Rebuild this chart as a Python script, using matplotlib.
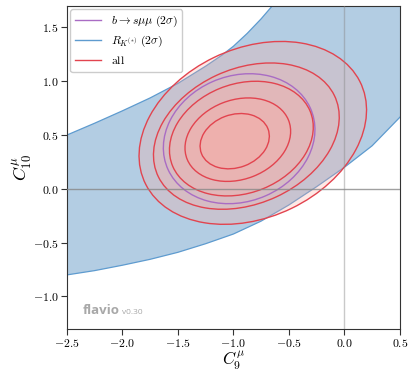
import numpy as np
import matplotlib
matplotlib.use("Agg")
import matplotlib.pyplot as plt
from matplotlib.patches import Ellipse, Polygon
from matplotlib.lines import Line2D
from matplotlib.ticker import FuncFormatter

plt.rcParams['mathtext.fontset'] = 'cm'
plt.rcParams['font.family'] = 'serif'
plt.rcParams['font.serif'] = ['DejaVu Serif']

# R_K(*) band (2 sigma): upper and lower edges
band_upper_x = [-2.6, -2.5, -2.25, -2.0, -1.75, -1.5, -1.25, -1.1, -1.0, -0.875, -0.75, -0.5, -0.3, 0.0, 0.6]
band_upper_y = [0.455, 0.50, 0.61, 0.725, 0.845, 0.98, 1.14, 1.245, 1.325, 1.445, 1.58, 1.88, 2.15, 2.5, 3.3]
band_lower_x = [-2.6, -2.5, -2.25, -2.0, -1.75, -1.5, -1.25, -1.0, -0.75, -0.5, -0.25, 0.0, 0.25, 0.5, 0.6]
band_lower_y = [-0.81, -0.80, -0.76, -0.71, -0.655, -0.59, -0.51, -0.42, -0.30, -0.15, 0.02, 0.20, 0.40, 0.665, 0.78]

# "all" contours (inner -> outer): centre, half-width, half-height, correlation
all_cx = [-0.988, -0.96, -0.928, -0.883, -0.825]
all_cy = [0.443, 0.457, 0.467, 0.49, 0.52]
all_sx = [0.312, 0.476, 0.648, 0.837, 1.025]
all_sy = [0.257, 0.388, 0.533, 0.68, 0.85]
all_rho = [0.18, 0.2, 0.2, 0.26, 0.25]

# b -> s mu mu (2 sigma) contour
bsmm_cx, bsmm_cy = -0.948, 0.466
bsmm_sx, bsmm_sy = 0.683, 0.604
bsmm_rho = 0.14

x_ticks = [-2.5, -2.0, -1.5, -1.0, -0.5, 0.0, 0.5]
y_ticks = [-1.0, -0.5, 0.0, 0.5, 1.0, 1.5]

BLUE_FILL = '#b3cde3'
BLUE_LINE = '#5e9bcf'
RED_LINE = '#e2444f'
RED_FILL = '#ffaaa0'
PURPLE = '#a96cc4'


def make_ellipse(cx, cy, sx, sy, rho, **kw):
    # ellipse with given bounding half-sizes and correlation
    cov = np.array([[sx ** 2, rho * sx * sy], [rho * sx * sy, sy ** 2]])
    vals, vecs = np.linalg.eigh(cov)
    angle = np.degrees(np.arctan2(vecs[1, 1], vecs[0, 1]))
    return Ellipse((cx, cy), 2 * np.sqrt(vals[1]), 2 * np.sqrt(vals[0]), angle=angle, **kw)


def main():
    fig = plt.figure(figsize=(4.08, 3.71), dpi=100)
    ax = fig.add_axes([0.164, 0.114, 0.816, 0.870])

    # R_K band
    pts = list(zip(band_upper_x, band_upper_y)) + list(zip(band_lower_x[::-1], band_lower_y[::-1]))
    ax.add_patch(Polygon(pts, closed=True, facecolor=BLUE_FILL, edgecolor=BLUE_LINE, lw=0.9, zorder=1))

    # filled "all" contours, outermost first
    for i in range(len(all_cx) - 1, -1, -1):
        ax.add_patch(make_ellipse(all_cx[i], all_cy[i], all_sx[i], all_sy[i], all_rho[i],
                                  facecolor=RED_FILL, edgecolor='none', alpha=0.27, zorder=2))
    ax.add_patch(make_ellipse(bsmm_cx, bsmm_cy, bsmm_sx, bsmm_sy, bsmm_rho,
                              facecolor='none', edgecolor=PURPLE, lw=1.0, zorder=3))
    for i in range(len(all_cx)):
        ax.add_patch(make_ellipse(all_cx[i], all_cy[i], all_sx[i], all_sy[i], all_rho[i],
                                  facecolor='none', edgecolor=RED_LINE, lw=1.0, zorder=4))

    ax.axhline(0, color='#888888', lw=1.0, alpha=0.8, zorder=5)
    ax.axvline(0, color='#888888', lw=1.0, alpha=0.45, zorder=5)

    ax.set_xlim(-2.5, 0.5)
    ax.set_ylim(-1.3, 1.7)
    ax.set_xticks(x_ticks)
    ax.set_yticks(y_ticks)
    fmt = FuncFormatter(lambda v, _: '$%.1f$' % v)
    ax.xaxis.set_major_formatter(fmt)
    ax.yaxis.set_major_formatter(fmt)
    ax.tick_params(labelsize=8.5, direction='out', length=4, pad=2, color='#333333')
    for s in ax.spines.values():
        s.set_color('#333333')

    ax.set_xlabel(r'$C_9^\mu$', fontsize=12, labelpad=0)
    ax.set_ylabel(r'$C_{10}^\mu$', fontsize=13, labelpad=-1)

    handles = [Line2D([], [], color=PURPLE, lw=1.0),
               Line2D([], [], color=BLUE_LINE, lw=1.0),
               Line2D([], [], color=RED_LINE, lw=1.0)]
    labels = [r'$b\to s\mu\mu\ (2\sigma)$', r'$R_{K^{(*)}}\ (2\sigma)$', r'$\mathrm{all}$']
    leg = ax.legend(handles, labels, loc='upper left', fontsize=8.5, framealpha=1,
                    edgecolor='#cccccc', handlelength=2.2, borderaxespad=0.3,
                    labelspacing=0.4)
    leg.set_zorder(10)

    ax.text(0.048, 0.046, 'flavio', transform=ax.transAxes, fontsize=9.5,
            family='Open Sans', weight='bold', color='#a8a8a8', zorder=10)
    ax.text(0.165, 0.046, 'v0.30', transform=ax.transAxes, fontsize=6,
            family='Open Sans', color='#a8a8a8', zorder=10)

    fig.savefig('out.png', dpi=100)


if __name__ == "__main__":
    main()
